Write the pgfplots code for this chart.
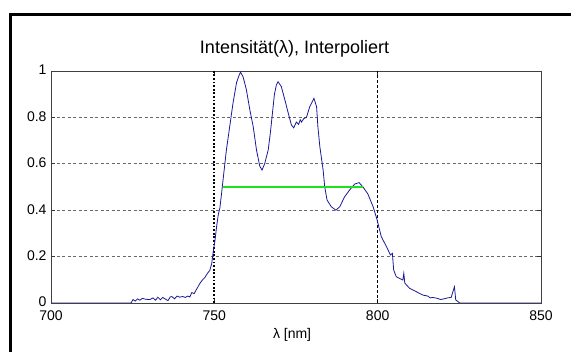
\documentclass[border=0pt]{standalone}
\usepackage{fontspec}
\setmainfont{Liberation Sans}
\usepackage{pgfplots}
\pgfplotsset{compat=1.18}
\definecolor{curveblue}{RGB}{25,25,150}
\definecolor{gridgray}{RGB}{105,105,105}
\definecolor{mgreen}{RGB}{30,225,30}
\pgfplotstableread{
x y
700 0
724.5 0
725.1 0.015
725.8 0.008
726.5 0.018
727.2 0.012
728.0 0.02
729.0 0.016
730.3 0.015
731.2 0.022
732.0 0.012
732.7 0.025
733.5 0.014
734.2 0.024
734.9 0.018
735.8 0.01
736.5 0.026
737.0 0.028
737.8 0.018
738.6 0.03
739.4 0.025
740.3 0.028
741.1 0.024
741.9 0.03
742.5 0.026
743.1 0.045
743.8 0.04
744.6 0.06
745.6 0.085
746.4 0.1
747.1 0.11
748.0 0.13
748.6 0.14
749.2 0.17
749.6 0.215
750.2 0.27
750.7 0.33
751.2 0.38
751.7 0.41
752.2 0.47
752.9 0.56
753.7 0.66
754.7 0.76
755.7 0.86
756.8 0.95
757.4 0.975
758.0 0.995
758.8 0.975
759.8 0.92
760.9 0.83
761.9 0.76
762.9 0.66
763.9 0.59
764.6 0.573
765.4 0.60
766.5 0.66
767.2 0.74
767.8 0.82
768.4 0.90
769.0 0.94
769.5 0.954
770.5 0.933
771.6 0.875
772.6 0.82
773.6 0.767
774.3 0.755
775.1 0.78
775.8 0.77
776.3 0.79
776.7 0.78
777.4 0.795
778.2 0.80
779.2 0.846
780.5 0.882
781.3 0.846
781.7 0.76
782.3 0.674
783.3 0.573
783.8 0.50
784.5 0.444
785.8 0.415
787.2 0.40
788.4 0.415
789.4 0.444
789.9 0.458
791.4 0.487
793.0 0.513
794.3 0.519
795.5 0.50
797.0 0.47
798.6 0.415
799.8 0.36
801.1 0.286
802.7 0.243
803.9 0.207
804.5 0.214
804.9 0.142
805.7 0.113
807.7 0.099
808.0 0.128
808.3 0.086
809.8 0.063
811.8 0.049
813.0 0.04
813.9 0.034
815.3 0.03
816.1 0.022
816.9 0.024
818.3 0.02
819.2 0.015
820.0 0.017
821.4 0.022
822.5 0.024
823.5 0.07
823.9 0.013
824.6 0.006
825.1 0
850 0
}\curve
\begin{document}
\begin{tikzpicture}
\begin{axis}[
  at={(51bp,49bp)}, anchor=south west,
  scale only axis, width=490bp, height=232bp,
  xmin=700, xmax=850, ymin=0, ymax=1,
  xtick={700,750,800,850}, xticklabels={700,750,800,850},
  ytick={0,0.2,0.4,0.6,0.8,1}, yticklabels={0,0.2,0.4,0.6,0.8,1},
  tick align=inside, major tick length=4bp,
  tick style={black!80, line width=0.6bp},
  ymajorgrids, grid style={gridgray, line width=0.8bp, dash pattern=on 3bp off 2.5bp},
  axis line style={draw=black!75, line width=0.8bp},
  ticklabel style={font=\fontsize{14bp}{16bp}\selectfont, text=black},
  yticklabel style={xshift=-1bp, yshift=1bp},
  xticklabel style={yshift=-4bp},
  title={Intensität(λ), Interpoliert},
  title style={at={(0.497,1)}, anchor=base, yshift=12bp, font=\fontsize{18bp}{21bp}\selectfont},
  xlabel={λ [nm]},
  xlabel style={at={(0.492,0)}, anchor=base, yshift=-35bp, font=\fontsize{14bp}{16bp}\selectfont},
]
\addplot[black, line width=1.8bp, dash pattern=on 1.8bp off 1.8bp] coordinates {(750,0) (750,1)};
\addplot[black, line width=0.8bp, dash pattern=on 3bp off 2bp] coordinates {(800,0) (800,1)};
\addplot[curveblue, line width=0.8bp] table[x=x, y=y] {\curve};
\addplot[mgreen, line width=1.6bp] coordinates {(752.7,0.5) (795.5,0.5)};
\end{axis}
\draw[line width=2.2bp] (10.5bp,0) -- (10.5bp,337.5bp) -- (571bp,337.5bp);
\pgfresetboundingbox
\path (0,0) rectangle (571bp,352bp);
\end{tikzpicture}
\end{document}
